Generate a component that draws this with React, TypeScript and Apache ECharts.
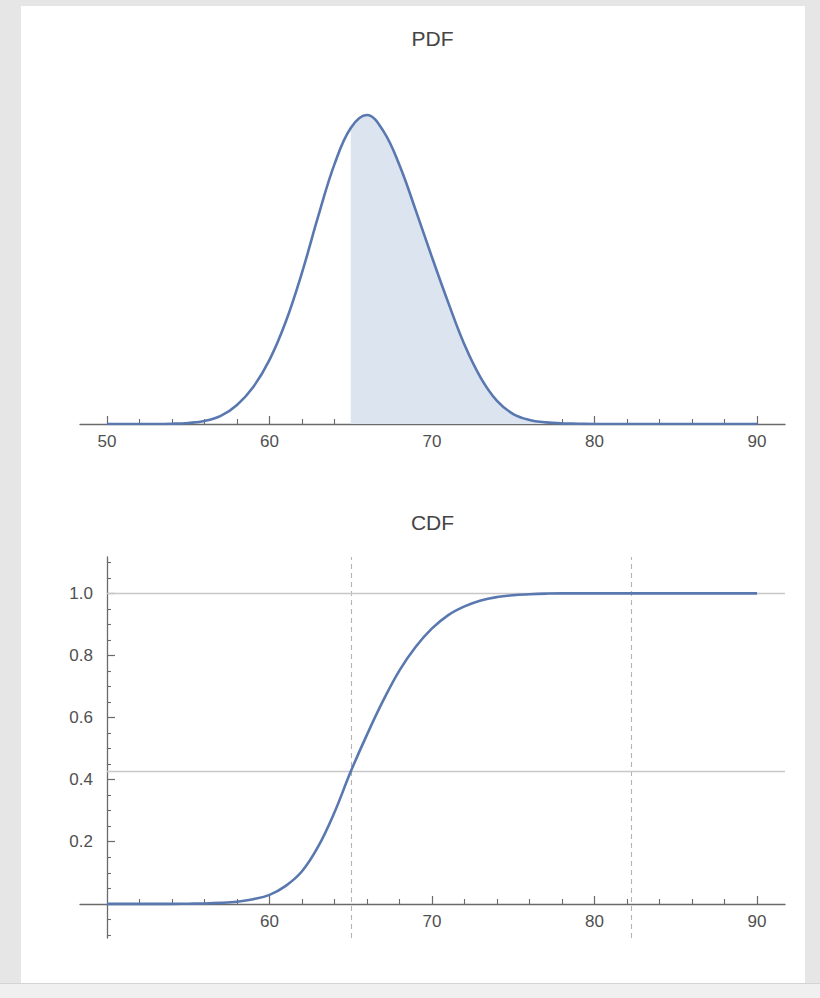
import React, { useEffect, useRef } from "react";
import * as echarts from "echarts";

// PDF curve (density) at every unit
const pdfX = [50, 51, 52, 53, 54, 55, 56, 57, 58, 59, 60, 61, 62, 63, 64, 65, 66, 67, 68, 69, 70, 71, 72, 73, 74, 75, 76, 77, 78, 79, 80, 81, 82, 83, 84, 85, 86, 87, 88, 89, 90];
const pdfY = [0, 0, 0, 0, 0.0001, 0.0004, 0.0011, 0.003, 0.0071, 0.0138, 0.0239, 0.0381, 0.0564, 0.0774, 0.0968, 0.1103, 0.1151, 0.1092, 0.0964, 0.0796, 0.0621, 0.0452, 0.0295, 0.0172, 0.0086, 0.0037, 0.0015, 0.0006, 0.0002, 0.0001, 0, 0, 0, 0, 0, 0, 0, 0, 0, 0, 0];
const shadeFrom = 65;

// CDF curve at every unit
const cdfX = [50, 51, 52, 53, 54, 55, 56, 57, 58, 59, 60, 61, 62, 63, 64, 65, 66, 67, 68, 69, 70, 71, 72, 73, 74, 75, 76, 77, 78, 79, 80, 81, 82, 83, 84, 85, 86, 87, 88, 89, 90];
const cdfY = [0, 0, 0, 0, 0, 0.0005, 0.001, 0.003, 0.007, 0.015, 0.029, 0.058, 0.105, 0.185, 0.295, 0.426, 0.545, 0.655, 0.752, 0.828, 0.887, 0.93, 0.958, 0.977, 0.988, 0.994, 0.997, 0.999, 1, 1, 1, 1, 1, 1, 1, 1, 1, 1, 1, 1, 1];

// reference lines in the CDF panel
const cdfMarkX = [65, 82.25];
const cdfMarkY = [0.426, 1.0];

// ticks and labels
const xMin = 48.34;
const xMax = 91.72;
const pdfXLabels = [50, 60, 70, 80, 90];
const cdfXLabels = [60, 70, 80, 90];
const xMinorTicks = [52, 54, 56, 58, 62, 64, 66, 68, 72, 74, 76, 78, 82, 84, 86, 88];
const yMajorTicks = [0.2, 0.4, 0.6, 0.8, 1.0];
const yMinorTicks = [-0.1, -0.05, 0.05, 0.1, 0.15, 0.25, 0.3, 0.35, 0.45, 0.5, 0.55, 0.65, 0.7, 0.75, 0.85, 0.9, 0.95, 1.05, 1.1];
const cdfYMin = -0.11;
const cdfYMax = 1.117;
const pdfYMax = 0.1207;

const FONT = "Liberation Sans";
const AXIS = "#6a6a6a";
const LABEL = "#505050";
const CURVE = "#5a78b0";
const FILL = "#dce4f0";

export default function App() {
  const ref = useRef<HTMLDivElement>(null);

  useEffect(() => {
    if (!ref.current) return;
    const chart = echarts.init(ref.current, undefined, { renderer: "svg" });

    const pdfData = pdfX.map((x, i) => [x, pdfY[i]]);
    const shadeData = pdfData.filter((p) => p[0] >= shadeFrom);
    const cdfData = cdfX.map((x, i) => [x, cdfY[i]]);

    const labelStyle = { color: LABEL, fontFamily: FONT, fontSize: 17 };

    // CDF grid spans y from cdfYMin..cdfYMax over 381px; zero sits 34px above its bottom
    const cdfAxisOffset = -34;

    const majorX = (gridIndex: number, labels: number[], offset: number) => ({
      type: "value",
      gridIndex,
      position: "bottom",
      offset,
      min: xMin,
      max: xMax,
      axisLine: { show: true, onZero: false, lineStyle: { color: AXIS, width: 1.3 } },
      axisTick: { show: true, inside: true, length: 8, customValues: labels, lineStyle: { color: AXIS, width: 1.2 } },
      axisLabel: { show: true, customValues: labels, margin: 9, ...labelStyle },
      splitLine: { show: false },
    });
    const minorX = (gridIndex: number, ticks: number[], offset: number) => ({
      type: "value",
      gridIndex,
      position: "bottom",
      offset,
      min: xMin,
      max: xMax,
      axisLine: { show: false, onZero: false },
      axisTick: { show: true, inside: true, length: 5, customValues: ticks, lineStyle: { color: AXIS, width: 1.1 } },
      axisLabel: { show: false },
      splitLine: { show: false },
    });

    chart.setOption({
      animation: false,
      backgroundColor: "transparent",
      graphic: [
        {
          type: "text",
          x: 432.5,
          y: 38,
          style: { text: "PDF", fontFamily: FONT, fontSize: 21, fill: "#444444", textAlign: "center", textVerticalAlign: "middle" },
        },
        {
          type: "text",
          x: 432.5,
          y: 522,
          style: { text: "CDF", fontFamily: FONT, fontSize: 21, fill: "#444444", textAlign: "center", textVerticalAlign: "middle" },
        },
      ],
      grid: [
        { left: 80, width: 705, top: 100, height: 324 },
        { left: 80, width: 705, top: 557, height: 381 },
        { left: 107, width: 10, top: 557, height: 381 },
      ],
      xAxis: [
        majorX(0, pdfXLabels, 0),
        minorX(0, xMinorTicks, 0),
        majorX(1, cdfXLabels, cdfAxisOffset),
        minorX(1, xMinorTicks, cdfAxisOffset),
        { type: "value", gridIndex: 2, min: 0, max: 1, show: false },
      ],
      yAxis: [
        { type: "value", gridIndex: 0, min: 0, max: pdfYMax, show: false },
        { type: "value", gridIndex: 1, min: cdfYMin, max: cdfYMax, show: false },
        {
          type: "value",
          gridIndex: 2,
          position: "left",
          min: cdfYMin,
          max: cdfYMax,
          axisLine: { show: true, onZero: false, lineStyle: { color: AXIS, width: 1.3 } },
          axisTick: { show: true, inside: true, length: 8, customValues: yMajorTicks, lineStyle: { color: AXIS, width: 1.2 } },
          axisLabel: {
            show: true,
            customValues: yMajorTicks,
            margin: 14,
            formatter: (v: number) => v.toFixed(1),
            ...labelStyle,
          },
          splitLine: { show: false },
        },
        {
          type: "value",
          gridIndex: 2,
          position: "left",
          min: cdfYMin,
          max: cdfYMax,
          axisLine: { show: false, onZero: false },
          axisTick: { show: true, inside: true, length: 4, customValues: yMinorTicks, lineStyle: { color: AXIS, width: 1.1 } },
          axisLabel: { show: false },
          splitLine: { show: false },
        },
      ],
      series: [
        {
          type: "line",
          name: "shade",
          xAxisIndex: 0,
          yAxisIndex: 0,
          data: shadeData,
          smooth: 0.4,
          symbol: "none",
          lineStyle: { width: 0, opacity: 0 },
          areaStyle: { color: FILL, opacity: 1 },
          z: 1,
        },
        {
          type: "line",
          name: "PDF",
          xAxisIndex: 0,
          yAxisIndex: 0,
          data: pdfData,
          smooth: 0.4,
          symbol: "none",
          lineStyle: { color: CURVE, width: 2.6 },
          z: 5,
        },
        {
          type: "line",
          name: "CDF",
          xAxisIndex: 2,
          yAxisIndex: 1,
          data: cdfData,
          smooth: 0.4,
          symbol: "none",
          lineStyle: { color: CURVE, width: 2.6 },
          z: 5,
          markLine: {
            silent: true,
            symbol: "none",
            label: { show: false },
            z: 1,
            data: [
              ...cdfMarkX.map((v) => ({ xAxis: v, lineStyle: { color: "#b4b4b4", type: [5, 4], width: 1.1 } })),
              ...cdfMarkY.map((v) => [
                { coord: [50, v], lineStyle: { color: "#c8c8c8", type: "solid", width: 1.4 } },
                { coord: [xMax, v] },
              ]),
            ],
          },
        },
      ],
    });

    return () => chart.dispose();
  }, []);

  return (
    <div style={{ position: "absolute", left: 0, top: 0, width: 820, height: 998, background: "#e6e6e6", overflow: "hidden" }}>
      <div style={{ position: "absolute", left: 21, top: 6, width: 784, height: 977, background: "#ffffff" }} />
      <div
        style={{
          position: "absolute",
          left: 0,
          top: 983,
          width: 820,
          height: 15,
          background: "#f0f0f0",
          borderTop: "1px solid #d4d4d4",
        }}
      />
      <div ref={ref} style={{ position: "absolute", left: 0, top: 0, width: 820, height: 998 }} />
    </div>
  );
}
